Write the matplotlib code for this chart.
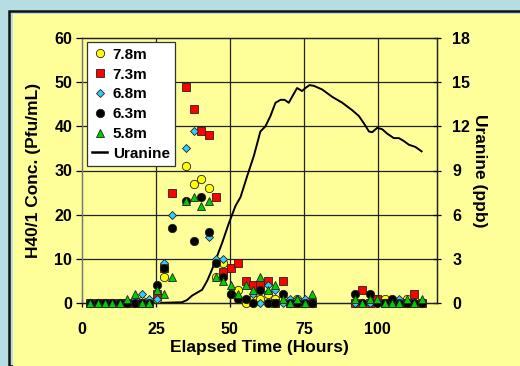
import numpy as np
import matplotlib
matplotlib.use("Agg")
import matplotlib.pyplot as plt
from matplotlib.patches import Rectangle
from matplotlib.lines import Line2D

nan = np.nan

# sampling times (hours)
hours = [2.8, 5.3, 7.8, 10.3, 12.8, 15.3, 17.8, 20.3, 22.8, 25.3, 27.8, 30.3,
         35.3, 37.8, 40.3, 42.8, 45.3, 47.8, 50.3, 52.8, 55.3, 57.8, 60.3, 62.8,
         65.3, 67.8, 70.3, 72.8, 75.3, 77.8,
         92.3, 94.8, 97.3, 99.8, 102.3, 104.8, 107.3, 109.8, 112.3, 114.8]

# phage concentrations (Pfu/mL) per depth
c78 = [0, 0, 0, 0, 0, 0, 0.5, 0.5, 0, 1, 6, nan,
       31, 27, 28, 26, 6, 9, 2, 3, 0, 1, 1, 2,
       1, 1, 0, 1, 0, 0,
       0, 0, 0, 1, 1, 0, 0, 1, 0, 0]
c73 = [0, 0, 0, 0, 0, 0, 0, 0, 0, 2, 8, 25,
       49, 44, 39, 38, 24, 7, 8, 9, 5, 4, 4, 5,
       0, 5, 0, 0, 0, 0,
       0, 3, 0, 1, 0, 0, 0, 0, 2, 0]
c68 = [0, 0, 0, 0, 0, 0, 1, 2, 1, 1, 9, 20,
       35, 39, nan, 15, 10, 10, 2, 1, 1, 2, 0, 4,
       3, 0, 1, 1, 1, 0,
       0, 0, 0, 0, 0, 0, 1, 0, 0, 0]
c63 = [0, 0, 0, 0, 0, 0, 0, 0, 0, 4, 8, 17,
       23, 14, 24, 16, 9, 6, 2, 1, 1, 0, 3, 0,
       0, 2, 0, 0, 0, 0,
       2, 0, 2, 0, 0, 1, 0, 0, 0, 0]
c58 = [0, 0, 0, 0, 0, 1, 2, 0, 0, 3, 2, 6,
       23, 24, 22, 23, 6, 5, 4, 2, 4, 3, 6, 3,
       4, 1, 0, 1, 0, 2,
       1, 0, 1, 1, 0, 0, 0, 1, 0, 1]

# uranine tracer (ppb)
u_hours = [24.8, 33.8, 35.5, 37.2, 38.9, 40.6, 42.3, 44.0, 45.7, 47.4, 49.6,
           51.9, 53.6, 55.8, 58.1, 60.3, 62.0, 63.7, 65.4, 67.1, 68.5, 69.9,
           71.0, 72.7, 74.4, 75.5, 76.9, 78.4, 81.2, 84.6, 88.0, 91.3, 93.6,
           95.3, 97.0, 98.1, 99.8, 101.5, 103.2, 105.4, 107.1, 108.8, 110.5,
           112.7, 114.8]
uranine = [0, 0.05, 0.2, 0.5, 0.7, 0.9, 1.5, 2.3, 3.2, 4.1, 5.4,
           6.6, 7.2, 8.6, 10.0, 11.65, 12.0, 12.7, 13.6, 13.8, 13.8, 13.6,
           14.0, 14.6, 14.4, 14.6, 14.8, 14.75, 14.5, 14.0, 13.6, 13.1, 12.7,
           12.2, 11.65, 11.6, 11.9, 11.8, 11.5, 11.2, 11.2, 11.0, 10.75,
           10.6, 10.3]

plt.rcParams['font.family'] = ['Liberation Sans', 'DejaVu Sans']
plt.rcParams['font.weight'] = 'bold'

fig = plt.figure(figsize=(5.2, 3.66), dpi=100)
fig.patch.set_facecolor('#B5DDE2')
W, H = 520, 366
fig.patches.append(Rectangle((8.5 / W, 0), 1, 1 - 10.5 / H, transform=fig.transFigure,
                             facecolor='none', edgecolor='#111111', lw=1.8, zorder=-10))
fig.patches.append(Rectangle((13 / W, 0), 1, 1 - 14 / H, transform=fig.transFigure,
                             facecolor='#FFFF99', edgecolor='none', zorder=-10))

ax = fig.add_axes([82 / W, 63 / H, 355 / W, 265 / H])
ax2 = ax.twinx()
ax2.set_zorder(1)
ax.set_zorder(2)
ax2.set_facecolor('#CCFFFF')
ax.patch.set_visible(False)

series = [("7.8m", c78, 'o', '#FFFF00', 6.0),
          ("7.3m", c73, 's', '#FF0000', 5.5),
          ("6.8m", c68, 'D', '#33CCFF', 4.3),
          ("6.3m", c63, 'o', '#000000', 6.0),
          ("5.8m", c58, '^', '#00CC00', 6.0)]
handles = []
for name, vals, mk, col, ms in series:
    ax.plot(hours, vals, linestyle='none', marker=mk, ms=ms, mfc=col,
            mec='#222222', mew=0.6, clip_on=False, zorder=3)
    handles.append(Line2D([], [], linestyle='none', marker=mk, ms=ms, mfc=col,
                          mec='#222222', mew=0.6, label=name))

ax2.plot(u_hours, uranine, color='black', lw=1.4, zorder=2)
handles.append(Line2D([], [], color='black', lw=1.8, label='Uranine'))

ax.set_xlim(0, 120)
ax.set_ylim(0, 60)
ax2.set_ylim(0, 18)
ax.set_xticks([0, 25, 50, 75, 100])
ax.set_yticks(range(0, 61, 10))
ax2.set_yticks(range(0, 19, 3))

for x in [25, 50, 75, 100]:
    ax2.axvline(x, color='#222222', lw=0.9, zorder=1)
for y in range(3, 18, 3):
    ax2.axhline(y, color='#222222', lw=0.9, zorder=1)

ax.tick_params(axis='y', labelsize=11.5, length=4, width=0.9, pad=3)
ax.tick_params(axis='x', labelsize=11.5, direction='inout', length=6, width=0.9, pad=11)
ax2.tick_params(axis='y', labelsize=11.5, length=6, width=0.9, direction='inout', pad=8)
for lbl in ax.get_xticklabels() + ax.get_yticklabels() + ax2.get_yticklabels():
    lbl.set_fontweight('bold')
for a in (ax, ax2):
    for s in a.spines.values():
        s.set_color('#222222')
        s.set_linewidth(0.9)
    a.spines['left'].set_color('#777777')

ax.set_xlabel('Elapsed Time (Hours)', fontsize=12.5, fontweight='bold', labelpad=2)
ax.set_ylabel('H40/1 Conc. (Pfu/mL)', fontsize=12.5, fontweight='bold', labelpad=10)
ax2.set_ylabel('Uranine (ppb)', fontsize=12.5, fontweight='bold', rotation=270, labelpad=12)

leg = ax.legend(handles=handles, loc='upper left', bbox_to_anchor=(0.005, 0.995),
                frameon=True, fancybox=False, borderpad=0.35,
                labelspacing=0.38, handlelength=1.0, handletextpad=0.35,
                borderaxespad=0.2, prop={'weight': 'bold', 'size': 11})
leg.get_frame().set_edgecolor('#333333')
leg.get_frame().set_linewidth(0.9)
leg.get_frame().set_facecolor('white')
leg.get_frame().set_alpha(1)
leg.set_zorder(10)

fig.savefig('out.png', dpi=100, facecolor=fig.get_facecolor())
